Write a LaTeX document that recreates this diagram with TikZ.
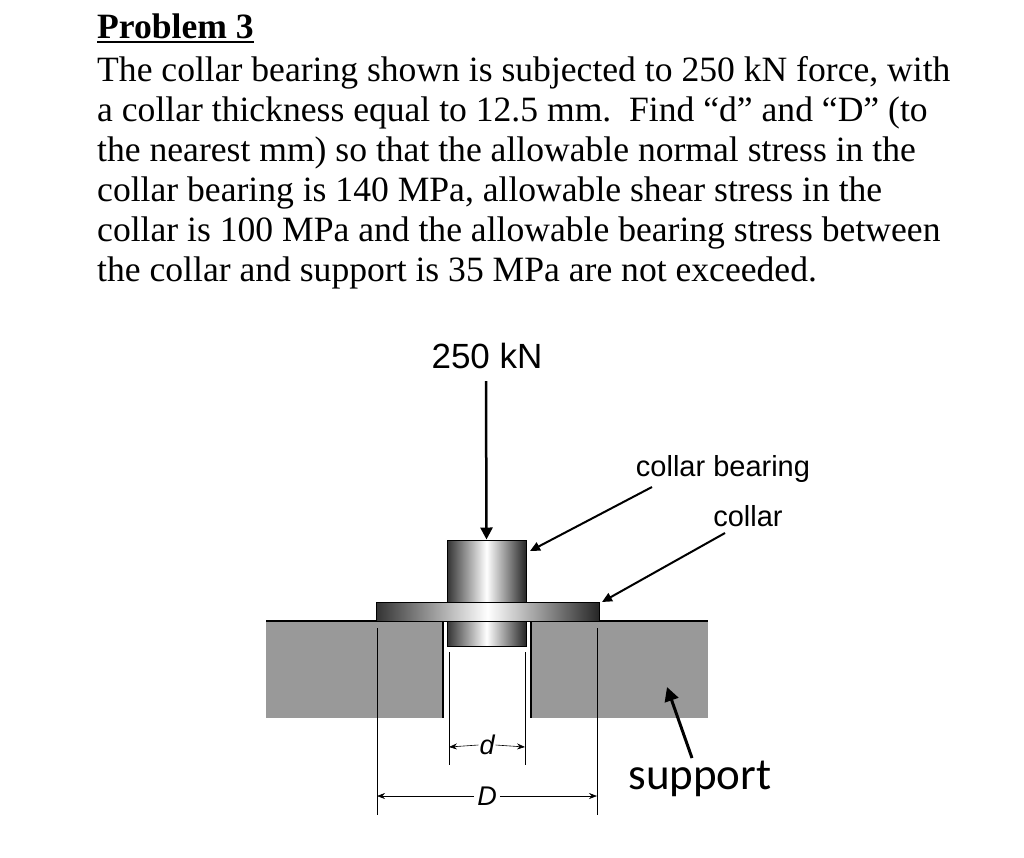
\documentclass[tikz,border=0pt]{standalone}
\usepackage{fontspec}
\setmainfont{Liberation Serif}
\newfontfamily\lsans{Liberation Sans}
\newfontfamily\csans{Carlito}
\usetikzlibrary{arrows.meta}
\begin{document}
\begin{tikzpicture}[x=1pt,y=-1pt,
  txt/.style={anchor=base west,inner sep=0,font=\fontsize{35.6}{36}\selectfont},
  lbl/.style={inner sep=0,font=\lsans\fontsize{29}{29}\selectfont},
  dim/.style={line width=0.6pt},
  metal/.style={left color=black!80,right color=black!85,middle color=white,draw=black,line width=1pt}]
\useasboundingbox (0,0) rectangle (1024,857);
\node[txt] (t0) at (97,38) {\textbf{Problem 3}};
\draw[line width=1.3pt] (97,42) -- (t0.base east |- 0,42);
\node[txt] (t1) at (97,81) {The collar bearing shown is subjected to 250 kN force, with};
\node[txt] (t2) at (97,121) {a collar thickness equal to 12.5 mm.\ \ Find “d” and “D” (to};
\node[txt] (t3) at (97,161) {the nearest mm) so that the allowable normal stress in the};
\node[txt] (t4) at (97,201) {collar bearing is 140 MPa, allowable shear stress in the};
\node[txt] (t5) at (97,241) {collar is 100 MPa and the allowable bearing stress between};
\node[txt] (t6) at (97,281) {the collar and support is 35 MPa are not exceeded.};
% support
\fill[black!40] (266,621) rectangle (442,718);
\fill[black!40] (531,621) rectangle (708,718);
\draw[line width=2pt] (266,621) -- (708,621);
\draw[line width=2pt] (443,621) -- (443,718);
\draw[line width=2pt] (531,621) -- (531,718);
% shaft
\node[metal,draw,minimum width=79,minimum height=106,inner sep=0] (shaft) at (486.5,593) {};
\node[metal,draw,minimum width=223,minimum height=19,inner sep=0] (collar) at (487.5,611.5) {};
% force
\node[lbl,font=\lsans\fontsize{35}{35}\selectfont] (f) at (487,356) {250 kN};
\coordinate (ftop) at (486,381);
\draw[line width=2.5pt,-{Triangle[length=12pt,width=12pt]}] (ftop) -- (shaft.north);
% labels
\node[lbl] (cb) at (723,469) {collar bearing};
\node[lbl] (cl) at (748,516) {collar};
\coordinate (cbs) at (652,487);
\coordinate (cls) at (725,533);
\draw[line width=2pt,-{Triangle[length=10pt,width=9pt]}] (cbs) -- (530,551);
\draw[line width=2pt,-{Triangle[length=10pt,width=9pt]}] (cls) -- (602,602);
\node[inner sep=0,font=\csans\fontsize{45}{45}\selectfont] (sup) at (700,779) {support};
\coordinate (sups) at (692,758);
\draw[line width=3pt,-{Triangle[length=14pt,width=14pt]}] (sups) -- (667,687);
% dimensions
\draw[dim] (449,652) -- (449,765);
\draw[dim] (525,652) -- (525,765);
\node[inner sep=1pt,font=\lsans\itshape\fontsize{27}{27}\selectfont] (dl) at (487,745) {d};
\draw[dim,-{Stealth[length=8pt]}] (dl.west) -- (449,747);
\draw[dim,-{Stealth[length=8pt]}] (dl.east) -- (525,747);
\draw[dim] (377,628) -- (377,815);
\draw[dim] (597,628) -- (597,815);
\node[inner sep=3pt,font=\lsans\itshape\fontsize{27}{27}\selectfont] (Dl) at (487,796) {D};
\draw[dim,-{Stealth[length=8pt]}] (Dl.west) -- (377,796);
\draw[dim,-{Stealth[length=8pt]}] (Dl.east) -- (597,796);
\end{tikzpicture}
\end{document}
